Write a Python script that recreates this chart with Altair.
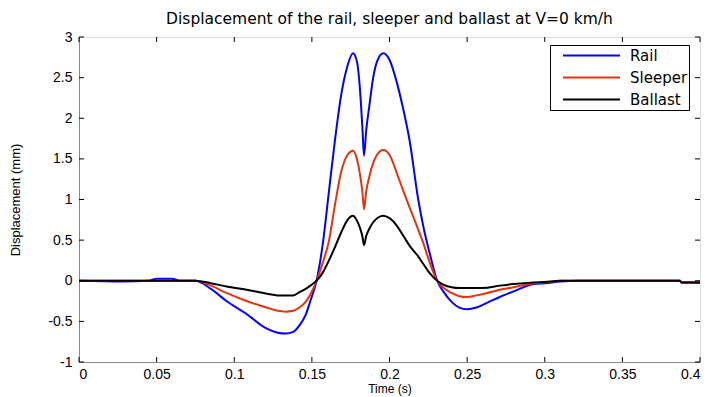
import altair as alt
import pandas as pd

# ---- data ----
time_s = [0.0, 0.028, 0.045, 0.05, 0.06, 0.065, 0.075, 0.085, 0.095, 0.108, 0.121, 0.128,
          0.133, 0.138, 0.142, 0.146, 0.149, 0.153, 0.157, 0.161, 0.165, 0.169, 0.173,
          0.1765, 0.179, 0.181, 0.1825, 0.1836, 0.185, 0.187, 0.1895, 0.192, 0.196, 0.2,
          0.205, 0.209, 0.213, 0.2185, 0.222, 0.226, 0.2307, 0.235, 0.24, 0.245, 0.25,
          0.256, 0.263, 0.271, 0.28, 0.293, 0.3, 0.31, 0.321, 0.33, 0.35, 0.387, 0.388, 0.4]

rail = [0.0, -0.01, 0.0, 0.025, 0.025, 0.0, 0.0, -0.1, -0.25, -0.41, -0.59, -0.64,
        -0.65, -0.63, -0.55, -0.42, -0.25, 0.0, 0.45, 1.1, 1.75, 2.3, 2.65,
        2.8, 2.7, 2.35, 1.9, 1.54, 1.85, 2.15, 2.5, 2.7, 2.8, 2.72,
        2.42, 2.1, 1.72, 1.0, 0.65, 0.33, 0.0, -0.14, -0.26, -0.33, -0.35,
        -0.33, -0.27, -0.2, -0.13, -0.04, -0.03, -0.01, 0.0, 0.0, 0.0, 0.0, -0.02, -0.02]

sleeper = [0.0, 0.0, 0.0, 0.0, 0.0, 0.0, 0.0, -0.06, -0.15, -0.25, -0.33, -0.37,
           -0.38, -0.37, -0.33, -0.26, -0.17, 0.0, 0.22, 0.49, 0.95, 1.35, 1.55,
           1.6, 1.5, 1.31, 1.1, 0.88, 1.1, 1.28, 1.45, 1.55, 1.61, 1.55,
           1.31, 1.1, 0.9, 0.63, 0.45, 0.22, 0.0, -0.09, -0.15, -0.19, -0.2,
           -0.18, -0.15, -0.11, -0.08, -0.03, -0.02, 0.0, 0.0, 0.0, 0.0, 0.0, -0.02, -0.02]

ballast = [0.0, 0.0, 0.0, 0.0, 0.0, 0.0, 0.0, -0.03, -0.07, -0.11, -0.16, -0.18,
           -0.18, -0.18, -0.14, -0.1, -0.06, 0.0, 0.1, 0.25, 0.42, 0.6, 0.75,
           0.8, 0.74, 0.65, 0.55, 0.44, 0.55, 0.64, 0.72, 0.77, 0.8, 0.77,
           0.67, 0.55, 0.43, 0.3, 0.2, 0.09, 0.0, -0.05, -0.08, -0.09, -0.09,
           -0.09, -0.085, -0.06, -0.04, -0.02, -0.015, 0.0, 0.0, 0.0, 0.0, 0.0, -0.02, -0.02]

series_names = ["Rail", "Sleeper", "Ballast"]
series_colors = ["#0000ff", "#e5330e", "#000000"]
series_widths = [2.0, 2.0, 1.5]

x_ticks = [0, 0.05, 0.1, 0.15, 0.2, 0.25, 0.3, 0.35, 0.4]
y_ticks = [-1, -0.5, 0, 0.5, 1, 1.5, 2, 2.5, 3]

rows = []
for name, vals in zip(series_names, [rail, sleeper, ballast]):
    for t, v in zip(time_s, vals):
        rows.append({"t": t, "v": v, "series": name})
df = pd.DataFrame(rows)

W, H = 621, 325
FONT = "DejaVu Sans"

X = alt.X("t:Q", scale=alt.Scale(domain=[0, 0.4], nice=False, zero=False),
          axis=alt.Axis(values=x_ticks, title="Time (s)", labelExpr="datum.value",
                        ticks=False, grid=False, labelPadding=5, labelFontSize=14,
                        titleFontSize=12, titleFontWeight="normal",
                        titleX=W / 2, titleY=21, titleBaseline="top"))
Y = alt.Y("v:Q", scale=alt.Scale(domain=[-1, 3], nice=False, zero=False),
          axis=alt.Axis(values=y_ticks, title="Displacement (mm)", labelExpr="datum.value",
                        ticks=False, grid=False, labelPadding=7, labelFontSize=14,
                        titleFontSize=13, titleFontWeight="normal",
                        titleX=-64, titleY=H / 2, titleAlign="center", titleBaseline="middle"))

lines = alt.Chart(df).mark_line(interpolate="monotone", clip=True).encode(
    x=X,
    y=Y,
    color=alt.Color("series:N", sort=series_names,
                    scale=alt.Scale(domain=series_names, range=series_colors),
                    legend=alt.Legend(title=None, orient="none", legendX=471, legendY=8,
                                      symbolType="stroke", symbolSize=3249,
                                      symbolStrokeWidth=1.5, clipHeight=19, rowPadding=3,
                                      padding=1, strokeColor="black", fillColor="white",
                                      labelFont=FONT, labelFontSize=15, labelColor="black",
                                      symbolOffset=11, labelOffset=9, cornerRadius=0)),
    strokeWidth=alt.StrokeWidth("series:N",
                                scale=alt.Scale(domain=series_names, range=series_widths),
                                legend=None),
)

xt = pd.DataFrame({"t": x_ticks})
yt = pd.DataFrame({"v": y_ticks})
tick_b = alt.Chart(xt).mark_rule(color="black", strokeWidth=1).encode(x=X, y=alt.value(H), y2=alt.value(H - 5))
tick_t = alt.Chart(xt).mark_rule(color="black", strokeWidth=1).encode(x=X, y=alt.value(0), y2=alt.value(5))
tick_l = alt.Chart(yt).mark_rule(color="black", strokeWidth=1).encode(y=Y, x=alt.value(0), x2=alt.value(5))
tick_r = alt.Chart(yt).mark_rule(color="black", strokeWidth=1).encode(y=Y, x=alt.value(W), x2=alt.value(W - 5))

chart = alt.layer(lines, tick_b, tick_t, tick_l, tick_r).properties(
    width=W, height=H,
    title=alt.TitleParams("Displacement of the rail, sleeper and ballast at V=0 km/h",
                          font=FONT, fontSize=15.5, fontWeight="normal", color="black",
                          anchor="middle", offset=3),
    autosize=alt.AutoSizeParams(type="none"),
    padding={"left": 79, "top": 37, "right": 11, "bottom": 35},
).configure_view(stroke="black", strokeWidth=1.2).configure_axis(
    domainColor="black", domainWidth=1.2, labelColor="black", titleColor="black",
    labelFont=FONT, titleFont=FONT,
).configure(background="white")

chart.save("out.html", embed_options={"renderer": "svg", "actions": False})
